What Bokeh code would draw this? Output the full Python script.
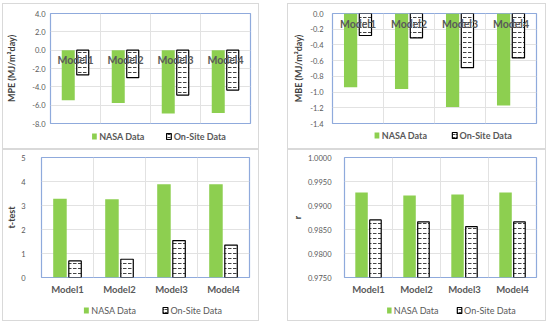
from bokeh.plotting import figure
from bokeh.layouts import row, column
from bokeh.models import FixedTicker, PrintfTickFormatter, Range1d, Spacer
from bokeh.core.properties import value
from bokeh.embed import file_html
from bokeh.resources import INLINE

models = ["Model1", "Model2", "Model3", "Model4"]
legend_labels = ["NASA Data", "On-Site Data"]

mpe_nasa = [-5.45, -5.75, -6.9, -6.85]
mpe_onsite = [-2.7, -3.0, -4.9, -4.35]

mbe_nasa = [-0.94, -0.96, -1.19, -1.17]
mbe_onsite = [-0.28, -0.31, -0.69, -0.565]

ttest_nasa = [3.28, 3.26, 3.89, 3.89]
ttest_onsite = [0.69, 0.76, 1.54, 1.35]

r_nasa = [0.9927, 0.9921, 0.9923, 0.9927]
r_onsite = [0.9870, 0.9866, 0.9856, 0.9866]

mpe_ticks = [-8, -6, -4, -2, 0, 2, 4]
mbe_ticks = [-1.4, -1.2, -1.0, -0.8, -0.6, -0.4, -0.2, 0.0]
ttest_ticks = [0, 1, 2, 3, 4, 5]
r_ticks = [0.975, 0.980, 0.985, 0.990, 0.995, 1.000]

GREEN = "#8dcf50"
FONT = "Lato"
TXT = "#595959"
DARK = "#404040"
FRAME = "#8faadc"
GRID = "#e2e2e2"


def chart(width, height, borders, yr, ticks, fmt, ylabel, nasa, onsite, base,
          top_labels, tick_standoff, label_standoff):
    left, right, top, bottom = borders
    p = figure(width=width, height=height, x_range=Range1d(0, 4), y_range=Range1d(*yr),
               output_backend="svg", toolbar_location=None,
               x_axis_location=None if top_labels else "below",
               min_border_left=left, min_border_right=right,
               min_border_top=top, min_border_bottom=bottom)
    p.outline_line_color = FRAME
    p.outline_line_width = 1.2
    p.xgrid.ticker = FixedTicker(ticks=[1, 2, 3])
    p.xgrid.grid_line_color = GRID
    p.ygrid.ticker = FixedTicker(ticks=ticks)
    p.ygrid.grid_line_color = GRID

    ya = p.yaxis[0]
    ya.ticker = FixedTicker(ticks=ticks)
    ya.formatter = PrintfTickFormatter(format=fmt)
    ya.axis_line_color = None
    ya.major_tick_line_color = None
    ya.minor_tick_line_color = None
    ya.major_tick_out = 0
    ya.minor_tick_out = 0
    ya.major_label_text_font = FONT
    ya.major_label_text_font_size = "7.5px"
    ya.major_label_text_color = TXT
    ya.major_label_standoff = tick_standoff
    ya.axis_label = ylabel
    ya.axis_label_text_font = FONT
    ya.axis_label_text_font_size = "9px"
    ya.axis_label_text_font_style = "bold"
    ya.axis_label_text_color = DARK
    ya.axis_label_standoff = label_standoff

    if not top_labels:
        xa = p.xaxis[0]
        xa.ticker = FixedTicker(ticks=[i + 0.5 for i in range(len(models))])
        xa.major_label_overrides = {i + 0.5: m for i, m in enumerate(models)}
        xa.axis_line_color = None
        xa.major_tick_line_color = None
        xa.minor_tick_line_color = None
        xa.major_tick_out = 0
        xa.minor_tick_out = 0
        xa.major_label_text_font = FONT
        xa.major_label_text_font_size = "9.5px"
        xa.major_label_text_font_style = "bold"
        xa.major_label_text_color = TXT
        xa.major_label_standoff = 6

    xs_n = [i + 0.5 - 0.145 for i in range(len(models))]
    xs_o = [i + 0.5 + 0.145 for i in range(len(models))]
    p.vbar(x=xs_n, top=nasa, bottom=base, width=0.26, fill_color=GREEN, line_color=None)
    p.vbar(x=xs_o, top=onsite, bottom=base, width=0.24, fill_color="white",
           line_color="black", line_width=1.2, hatch_pattern="horizontal_dash",
           hatch_color="#444444", hatch_scale=5, hatch_weight=1)

    if top_labels:
        p.text(x=[i + 0.5 for i in range(len(models))], y=[0] * len(models), text=models,
               y_offset=10, text_align="center", text_baseline="middle",
               text_font=value(FONT), text_font_size="10.5px", text_font_style="bold",
               text_color=TXT)
    return p


def legend_fig(width, height, x1, x2, yc, bold):
    lf = figure(width=width, height=height, x_range=Range1d(0, width),
                y_range=Range1d(0, height), output_backend="svg", toolbar_location=None,
                x_axis_location=None, y_axis_location=None,
                min_border_left=0, min_border_right=0, min_border_top=0, min_border_bottom=0)
    lf.outline_line_color = None
    lf.xgrid.visible = False
    lf.ygrid.visible = False
    lf.rect(x=[x1 + 3], y=[yc], width=6, height=6, fill_color=GREEN, line_color=None)
    lf.rect(x=[x2 + 3], y=[yc], width=6, height=6, fill_color="white",
            line_color="black", line_width=1.2, hatch_pattern="horizontal_dash",
            hatch_color="#444444", hatch_scale=3, hatch_weight=1)
    lf.text(x=[x1 + 9, x2 + 9], y=[yc, yc], text=legend_labels, text_align="left",
            text_baseline="middle", text_font=value(FONT), text_font_size="9px",
            text_font_style="bold" if bold else "normal", text_color=TXT)
    return lf


BOX = {"box-shadow": "0 0 0 1px #d9d9d9"}

c1 = chart(255, 125, (43, 8, 9, 6), (-8, 4), mpe_ticks, "%.1f", "MPE (MJ/m²day)",
           mpe_nasa, mpe_onsite, 0, True, 5, 12)
l1 = legend_fig(255, 19, 53, 148, 12, True)
c2 = chart(257, 125, (44, 9, 9, 6), (-1.4, 0), mbe_ticks, "%.1f", "MBE (MJ/m²day)",
           mbe_nasa, mbe_onsite, 0, True, 9, 3)
l2 = legend_fig(257, 19, 53, 151, 13, True)
c3 = chart(255, 151, (33, 9, 7, 24), (0, 5), ttest_ticks, "%d", "t-test",
           ttest_nasa, ttest_onsite, 0, False, 16, 1)
l3 = legend_fig(255, 19, 52, 149, 10, False)
c4 = chart(257, 151, (50, 9, 7, 24), (0.975, 1.0), r_ticks, "%.4f", "r",
           r_nasa, r_onsite, 0.975, False, 13, 2)
l4 = legend_fig(257, 19, 57, 151, 10, False)

panel1 = column(c1, l1, spacing=0, styles=BOX)
panel2 = column(c2, l2, spacing=0, styles=BOX)
panel3 = column(c3, l3, spacing=0, styles=BOX)
panel4 = column(c4, l4, spacing=0, styles=BOX)

layout = column(
    Spacer(height=4),
    row(Spacer(width=3), panel1, Spacer(width=30), panel2),
    Spacer(height=2),
    row(Spacer(width=3), panel3, Spacer(width=30), panel4),
)

open("out.html", "w").write(file_html(layout, INLINE))
